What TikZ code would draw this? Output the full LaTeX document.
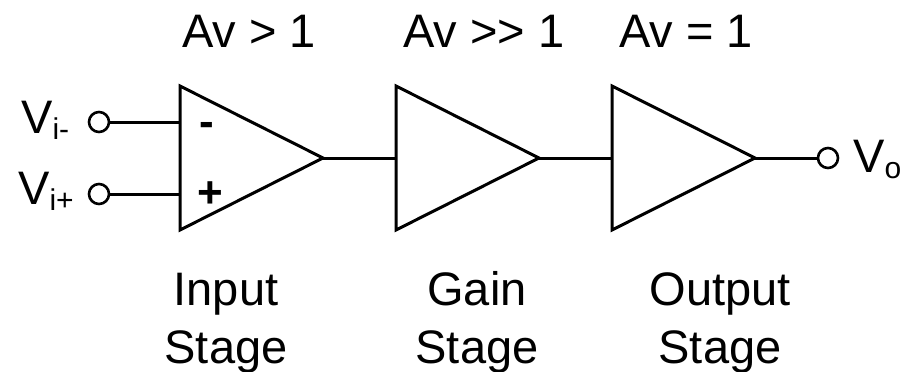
\documentclass[tikz,border=0pt]{standalone}
\usepackage{fontspec}
\setmainfont{Liberation Sans}
\newcommand{\lbl}{\fontsize{47}{47}\selectfont}
\newcommand{\sbs}{\fontsize{30}{30}\selectfont}
\tikzset{
  wire/.style={line width=3pt,line cap=butt},
  tri/.style={line width=3pt,line join=miter,fill=white},
  term/.style={circle,draw,line width=2.6pt,minimum size=20pt,inner sep=0pt,fill=white},
  txt/.style={inner sep=0pt,anchor=base,font=\lbl},
  sign/.style={inner sep=0pt,anchor=base,font=\fontsize{44}{44}\selectfont\bfseries},
}
\begin{document}
\begin{tikzpicture}[x=1pt,y=-1pt]
\useasboundingbox (0,0) rectangle (900,372);
% stage anchors
\coordinate (a1) at (323,158); \coordinate (in1m) at (180,122); \coordinate (in1p) at (180,194);
\coordinate (in2) at (396,158); \coordinate (a2) at (539,158);
\coordinate (in3) at (612,158); \coordinate (a3) at (755,158);
\node[term] (vm) at (99,122) {};
\node[term] (vp) at (99,194) {};
\node[term] (vo) at (828,158) {};
% connectors
\draw[wire] (vm) -- (in1m);
\draw[wire] (vp) -- (in1p);
\draw[wire] (a1) -- (in2);
\draw[wire] (a2) -- (in3);
\draw[wire] (a3) -- (vo);
% triangles
\draw[tri] (180,86) -- (a1) -- (180,230) -- cycle;
\draw[tri] (396,86) -- (a2) -- (396,230) -- cycle;
\draw[tri] (612,86) -- (a3) -- (612,230) -- cycle;
% signs
\node[sign] (sm) at (207,136) {-};
\node[sign] (sp) at (210,207) {+};
% labels
\node[txt,anchor=base west] (lm) at (21,133) {V\raisebox{-6pt}{\sbs i-}};
\node[txt,anchor=base west] (lp) at (18,204) {V\raisebox{-6pt}{\sbs i+}};
\node[txt,anchor=base west] (lo) at (853,172) {V\raisebox{-6pt}{\sbs o}};
\node[txt] (g1) at (249,47) {Av > 1};
\node[txt] (g2) at (484,47) {Av {>}{>} 1};
\node[txt] (g3) at (686,47) {Av = 1};
\node[txt] (n1a) at (226,305) {Input};
\node[txt] (n1b) at (226,363) {Stage};
\node[txt] (n2a) at (477,305) {Gain};
\node[txt] (n2b) at (477,363) {Stage};
\node[txt] (n3a) at (720,305) {Output};
\node[txt] (n3b) at (720,363) {Stage};
\end{tikzpicture}
\end{document}
